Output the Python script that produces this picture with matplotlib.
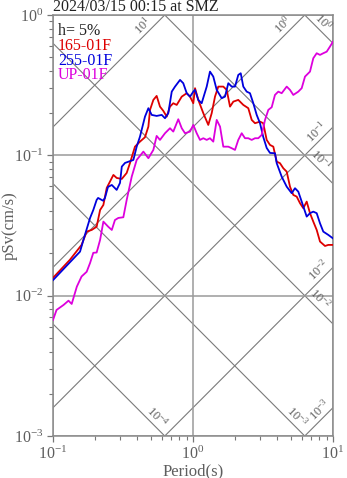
import numpy as np
import matplotlib
matplotlib.use('Agg')
import matplotlib.pyplot as plt
from matplotlib.ticker import LogLocator, NullFormatter, LogFormatterMathtext

plt.rcParams['font.family'] = ['Liberation Serif', 'DejaVu Serif']
plt.rcParams['mathtext.fontset'] = 'custom'
plt.rcParams['mathtext.rm'] = 'Liberation Serif'
plt.rcParams['mathtext.it'] = 'Liberation Serif:italic'
plt.rcParams['mathtext.bf'] = 'Liberation Serif:bold'

title = '2024/03/15 00:15 at SMZ'
damping_label = 'h= 5%'
series_names = ['165-01F', '255-01F', 'UP-01F']

red_T = [0.100, 0.132, 0.160, 0.174, 0.189, 0.205, 0.217, 0.229, 0.242, 0.270,
         0.285, 0.310, 0.336, 0.355, 0.385, 0.418, 0.454, 0.480, 0.493, 0.521,
         0.550, 0.581, 0.614, 0.649, 0.685, 0.723, 0.765, 0.831, 0.902, 0.952,
         1.005, 1.034, 1.091, 1.185, 1.286, 1.360, 1.436, 1.516, 1.646, 1.741,
         1.838, 1.941, 2.106, 2.287, 2.483, 2.626, 2.773, 3.010, 3.176, 3.360,
         3.548, 3.747, 3.962, 4.180, 4.416, 4.670, 4.930, 5.205, 5.505, 5.812,
         6.136, 6.488, 6.849, 7.232, 7.648, 8.075, 8.768, 9.257, 10.0]
red_SV = [0.0134, 0.0180, 0.0230, 0.0286, 0.0294, 0.0310, 0.0408, 0.0443, 0.0586, 0.0725,
          0.0690, 0.0679, 0.0749, 0.0883, 0.1153, 0.1252, 0.1346, 0.1602, 0.2107, 0.2483,
          0.2651, 0.2224, 0.2073, 0.1887, 0.2224, 0.2351, 0.2287, 0.2620, 0.2771, 0.2620,
          0.2351, 0.3009, 0.2483, 0.1996, 0.1647, 0.1996, 0.2620, 0.3089, 0.3089, 0.2926,
          0.2224, 0.2414, 0.2483, 0.2287, 0.2167, 0.1788, 0.1694, 0.1739, 0.1694, 0.1288,
          0.1186, 0.1153, 0.0902, 0.0879, 0.0809, 0.0765, 0.0598, 0.0522, 0.0508, 0.0456,
          0.0420, 0.0468, 0.0387, 0.0337, 0.0294, 0.0243, 0.0226, 0.0230, 0.0230]

blue_T = [0.100, 0.156, 0.165, 0.184, 0.194, 0.205, 0.210, 0.228, 0.235, 0.247,
          0.263, 0.285, 0.301, 0.310, 0.327, 0.375, 0.396, 0.418, 0.454, 0.480,
          0.507, 0.550, 0.598, 0.631, 0.666, 0.705, 0.744, 0.808, 0.852, 0.902,
          0.952, 1.005, 1.034, 1.091, 1.153, 1.253, 1.322, 1.396, 1.477, 1.603,
          1.693, 1.787, 1.890, 1.995, 2.106, 2.192, 2.287, 2.418, 2.553, 2.696,
          2.851, 3.010, 3.176, 3.360, 3.548, 3.850, 3.962, 4.300, 4.670, 5.070,
          5.353, 5.652, 5.976, 6.488, 6.849, 7.232, 7.648, 8.075, 8.524, 9.257,
          10.0]
blue_SV = [0.0129, 0.0206, 0.0250, 0.0358, 0.0408, 0.0481, 0.0497, 0.0475, 0.0497, 0.0595,
           0.0615, 0.0567, 0.0636, 0.0831, 0.0883, 0.0927, 0.1153, 0.1359, 0.1887, 0.2167,
           0.1941, 0.1909, 0.1941, 0.1838, 0.1996, 0.2844, 0.3089, 0.3446, 0.3265, 0.2771,
           0.2620, 0.2844, 0.2926, 0.2483, 0.2351, 0.3089, 0.3950, 0.3640, 0.2926, 0.2553,
           0.2620, 0.3265, 0.3089, 0.3089, 0.3740, 0.3846, 0.3089, 0.2844, 0.2771, 0.2351,
           0.1941, 0.1694, 0.1352, 0.1129, 0.1040, 0.1035, 0.0879, 0.0705, 0.0598, 0.0537,
           0.0583, 0.0551, 0.0468, 0.0366, 0.0387, 0.0397, 0.0387, 0.0328, 0.0286, 0.0271,
           0.0256]

mag_T = [0.100, 0.106, 0.119, 0.129, 0.136, 0.148, 0.160, 0.174, 0.184, 0.194,
         0.205, 0.217, 0.229, 0.248, 0.263, 0.277, 0.293, 0.318, 0.336, 0.365,
         0.396, 0.442, 0.480, 0.521, 0.550, 0.581, 0.631, 0.685, 0.723, 0.785,
         0.831, 0.877, 0.952, 1.005, 1.063, 1.122, 1.185, 1.253, 1.322, 1.396,
         1.477, 1.560, 1.646, 1.787, 1.890, 1.995, 2.106, 2.228, 2.352, 2.483,
         2.626, 2.773, 2.927, 3.095, 3.269, 3.451, 3.649, 3.850, 4.067, 4.300,
         4.670, 4.930, 5.205, 5.652, 5.976, 6.310, 6.849, 7.232, 7.648, 8.075,
         8.524, 9.016, 9.520, 10.0]
mag_SV = [0.00671, 0.00791, 0.00859, 0.00921, 0.00873, 0.0116, 0.0137, 0.0148, 0.0171, 0.0202,
          0.0203, 0.0250, 0.0337, 0.0310, 0.0294, 0.0346, 0.0358, 0.0362, 0.0481, 0.0705,
          0.0927, 0.1063, 0.0954, 0.1093, 0.1375, 0.1288, 0.1437, 0.1560, 0.1476, 0.1808,
          0.1560, 0.1437, 0.1476, 0.1647, 0.1437, 0.1288, 0.1324, 0.1288, 0.1324, 0.1252,
          0.1788, 0.1602, 0.1153, 0.1153, 0.1124, 0.1093, 0.1288, 0.1437, 0.1324, 0.1324,
          0.1288, 0.1324, 0.1324, 0.1398, 0.1788, 0.2107, 0.2202, 0.2694, 0.2844, 0.2771,
          0.3089, 0.2926, 0.2694, 0.2844, 0.3009, 0.3640, 0.3950, 0.4920, 0.5340, 0.5195,
          0.5340, 0.5480, 0.5960, 0.6460]

# tripartite grid: acceleration (cm/s^2) and displacement (cm) values
accel_levels = [1e1, 1e0, 1e-1, 1e-2, 1e-3]
accel_exp = [1, 0, -1, -2, -3]
accel_label_T = [0.481, 4.83, 8.41, 8.74, 8.80]
disp_levels = [1e0, 1e-1, 1e-2, 1e-3, 1e-4]
disp_exp = [0, -1, -2, -3, -4]
disp_label_T = [7.74, 7.44, 7.31, 5.05, 0.501]

colors = ['#dd0000', '#0000dd', '#dd00dd']
grid_c = '#7a7a7a'
text_c = '#5e5e5e'

fig = plt.figure(figsize=(3.47, 4.78), dpi=100)
ax = fig.add_axes([53 / 347, 42 / 478, 280 / 347, 421 / 478])
ax.set_xscale('log')
ax.set_yscale('log')
ax.set_xlim(0.1, 10)
ax.set_ylim(1e-3, 1)

Tg = np.logspace(-1, 1, 200)
tw = 2 * np.pi
for A, e, tl in zip(accel_levels, accel_exp, accel_label_T):
    ax.plot(Tg, A * Tg / tw, color=grid_c, lw=0.8, zorder=1)
    ax.annotate(f'$\\mathdefault{{10^{{{e}}}}}$', xy=(tl, A * tl / tw),
                xytext=(-6, 6), textcoords='offset pixels', rotation=45,
                ha='center', va='center', fontsize=9, color=text_c,
                annotation_clip=False)
for D, e, tl in zip(disp_levels, disp_exp, disp_label_T):
    ax.plot(Tg, D * tw / Tg, color=grid_c, lw=0.8, zorder=1)
    ax.annotate(f'$\\mathdefault{{10^{{{e}}}}}$', xy=(tl, D * tw / tl),
                xytext=(6, 6), textcoords='offset pixels', rotation=-45,
                ha='center', va='center', fontsize=9, color=text_c,
                annotation_clip=False)

ax.grid(True, which='major', color='#9a9a9a', lw=1.1, zorder=0)

ax.plot(red_T, red_SV, color=colors[0], lw=1.3, zorder=3)
ax.plot(blue_T, blue_SV, color=colors[1], lw=1.3, zorder=3)
ax.plot(mag_T, mag_SV, color=colors[2], lw=1.3, zorder=3)

# legend texts
ax.text(0.018, 0.9525, damping_label, transform=ax.transAxes, fontsize=11.5,
        color='#222222', va='baseline', ha='left')
for i, (nm, c) in enumerate(zip(series_names, colors)):
    ax.text(0.018, 0.9525 - 0.0352 * (i + 1), nm, transform=ax.transAxes,
            fontsize=11.5, color=c, va='baseline', ha='left')

ax.xaxis.set_major_locator(LogLocator(base=10, numticks=10))
ax.yaxis.set_major_locator(LogLocator(base=10, numticks=10))
ax.xaxis.set_minor_locator(LogLocator(base=10, subs=np.arange(2, 10), numticks=10))
ax.yaxis.set_minor_locator(LogLocator(base=10, subs=np.arange(2, 10), numticks=10))
ax.xaxis.set_major_formatter(LogFormatterMathtext())
ax.yaxis.set_major_formatter(LogFormatterMathtext())
ax.xaxis.set_minor_formatter(NullFormatter())
ax.yaxis.set_minor_formatter(NullFormatter())
ax.tick_params(which='major', direction='out', length=4.5, width=0.9, color='#777777',
               labelcolor=text_c, labelsize=11.5, pad=2.5)
ax.tick_params(which='minor', direction='out', length=3, width=0.8, color='#777777')

for s in ax.spines.values():
    s.set_color('#8a8a8a')
    s.set_linewidth(1.1)

ax.set_title(title, loc='left', fontsize=11.5, pad=2.5, color='#222222')
ax.set_xlabel('Period(s)', fontsize=12, color=text_c)
ax.set_ylabel('pSv(cm/s)', fontsize=12, color=text_c)
ax.xaxis.set_label_coords(0.5, -0.065)
ax.yaxis.set_label_coords(-0.125, 0.5)

fig.savefig('out.png', dpi=100)
